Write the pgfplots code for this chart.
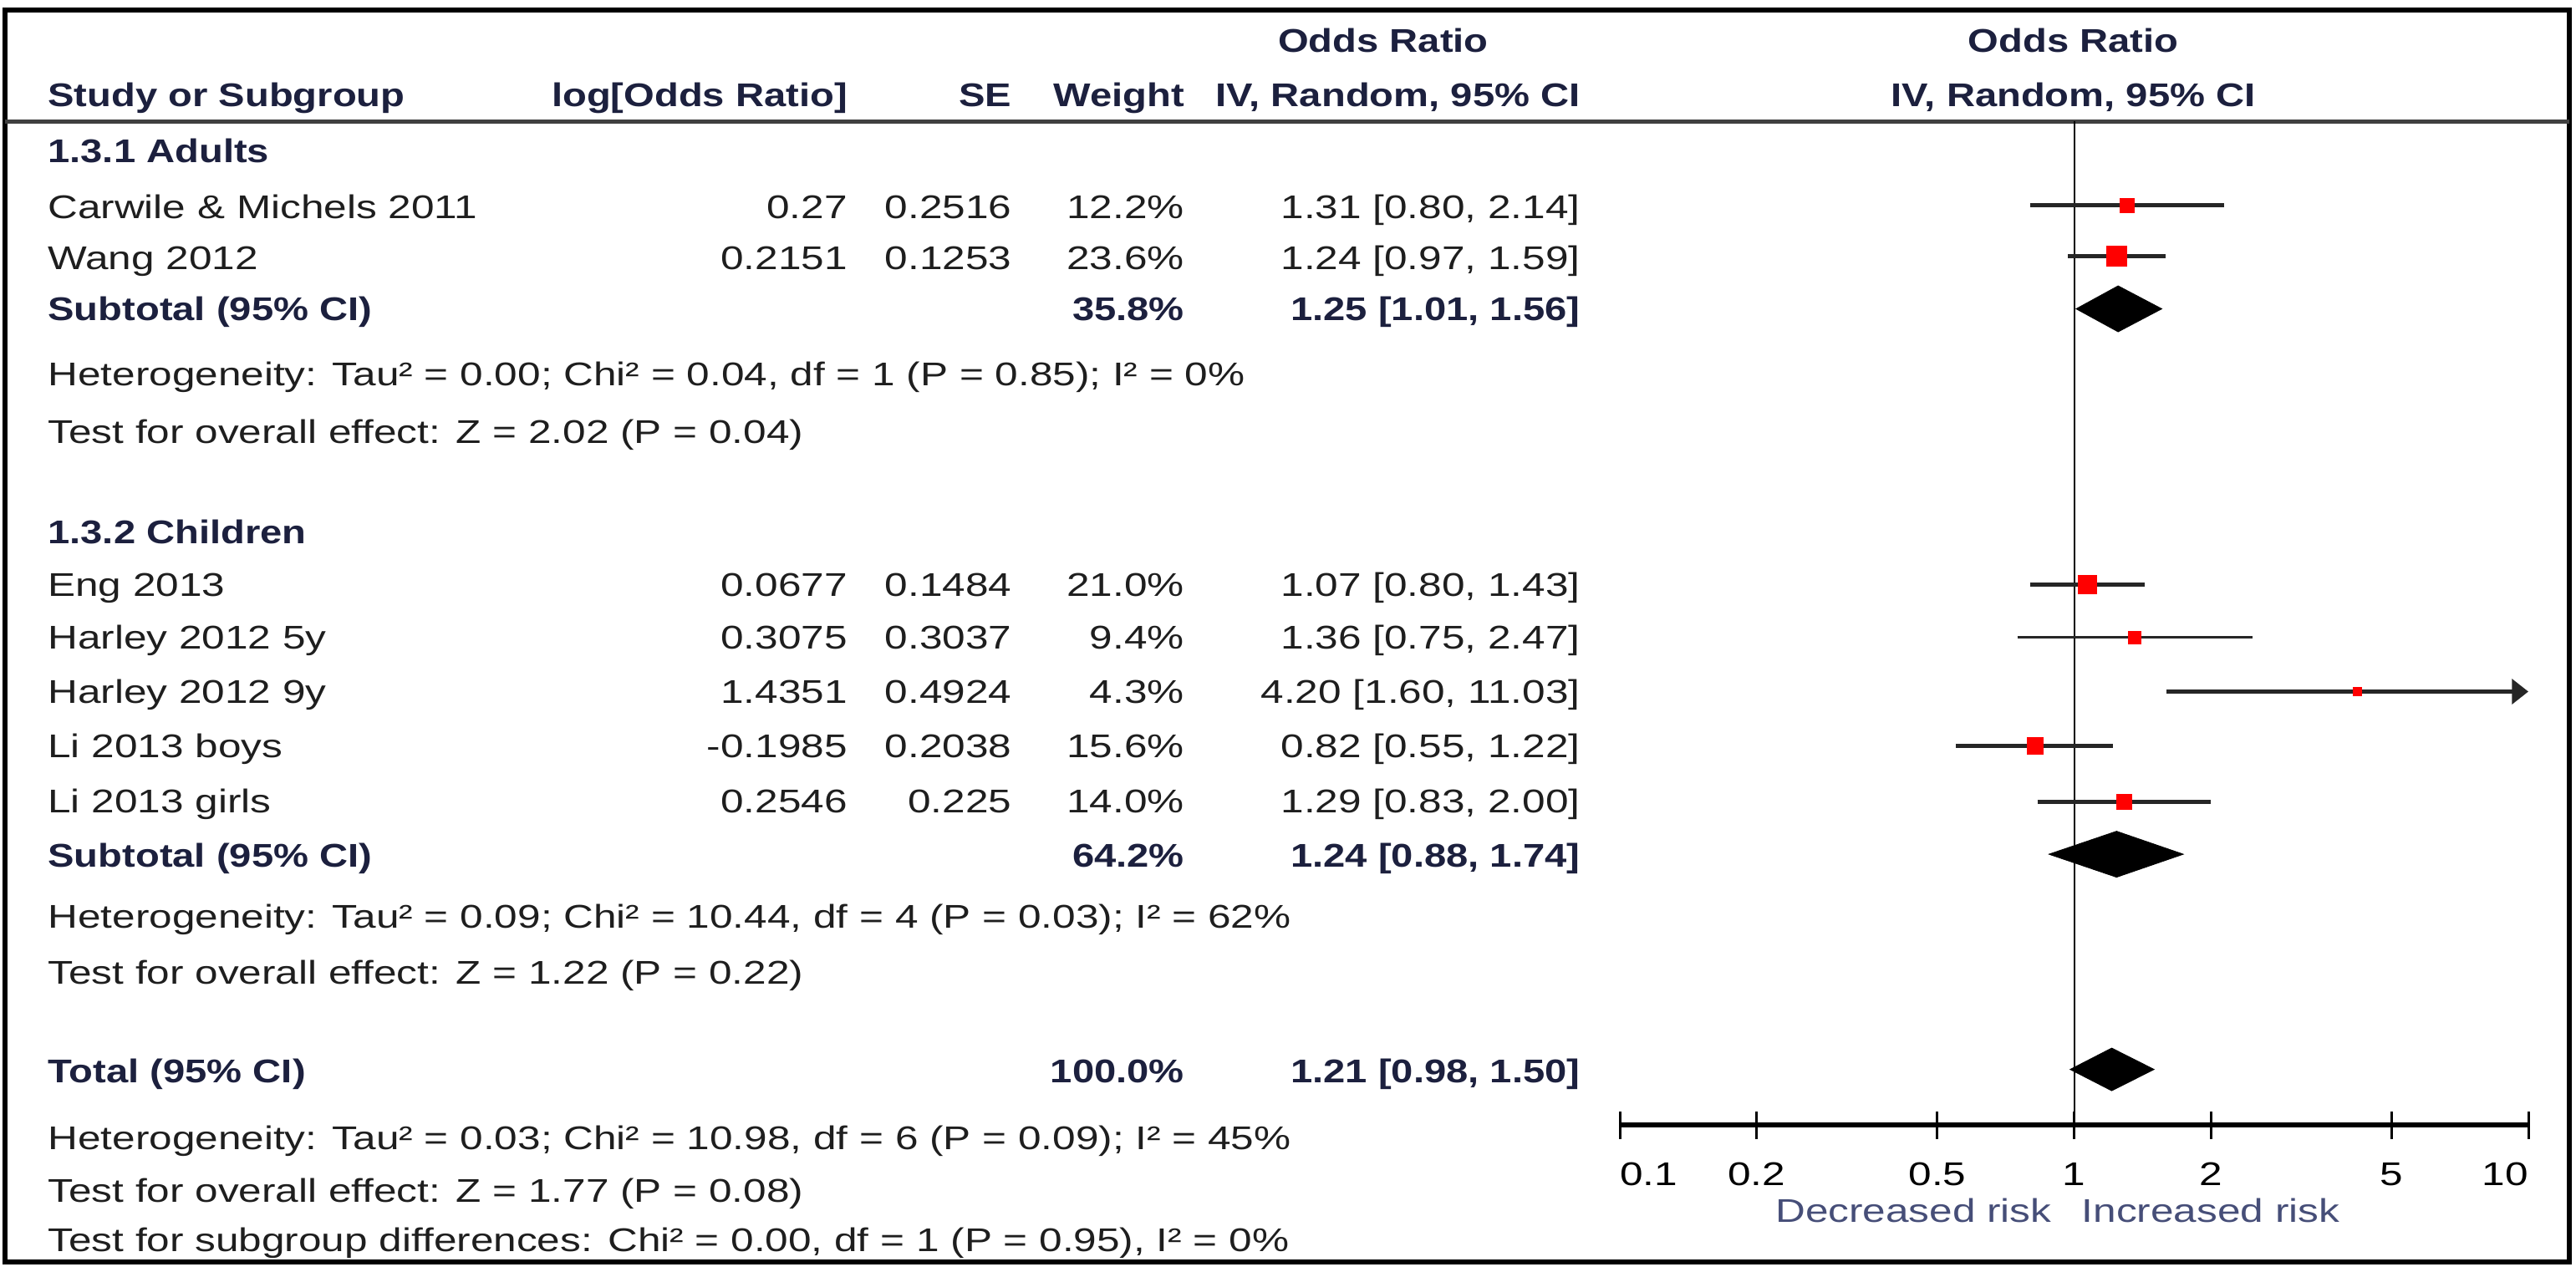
\documentclass[border=0pt]{standalone}
\usepackage{fontspec}
\setmainfont{Liberation Sans}[FakeStretch=1.26, BoldFeatures={FakeStretch=1.2}]
\usepackage{pgfplots}
\pgfplotsset{compat=1.18}
\usetikzlibrary{arrows.meta}
\definecolor{txt}{RGB}{30,30,30}
\definecolor{hdr}{RGB}{28,32,62}
\definecolor{risk}{RGB}{70,78,120}
\definecolor{sq}{RGB}{255,0,0}
\newcommand\fs{\fontsize{20}{24}\selectfont}
\newcommand\study[6]{%
  \node[anchor=base west] at (29,-#1) {#2};
  \node[anchor=base east] at (516,-#1) {#3};
  \node[anchor=base east] at (616,-#1) {#4};
  \node[anchor=base east] at (721,-#1) {#5};
  \node[anchor=base east] at (962,-#1) {#6};}
\begin{document}
\begin{tikzpicture}[x=1pt,y=1pt, every node/.style={font=\fs, inner sep=0pt, text=txt}]
\useasboundingbox (0,0) rectangle (1568,-774);
\draw[line width=3pt] (3,-6) rectangle (1564,-768);
\draw[line width=3pt, black!75] (3,-74) -- (1564,-74);
% headers
\begin{scope}[every node/.append style={text=hdr, font=\fs\bfseries}]
\node[anchor=base] at (842,-32) {Odds Ratio};
\node[anchor=base] at (1262,-32) {Odds Ratio};
\node[anchor=base west] at (29,-65) {Study or Subgroup};
\node[anchor=base east] at (516,-65) {log[Odds Ratio]};
\node[anchor=base east] at (616,-65) {SE};
\node[anchor=base east] at (721,-65) {Weight};
\node[anchor=base east] at (962,-65) {IV, Random, 95\% CI};
\node[anchor=base] at (1262,-65) {IV, Random, 95\% CI};
\node[anchor=base west] at (29,-99) {1.3.1 Adults};
\node[anchor=base west] at (29,-195) {Subtotal (95\% CI)};
\node[anchor=base east] at (721,-195) {35.8\%};
\node[anchor=base east] at (962,-195) {1.25 [1.01, 1.56]};
\node[anchor=base west] at (29,-331) {1.3.2 Children};
\node[anchor=base west] at (29,-528) {Subtotal (95\% CI)};
\node[anchor=base east] at (721,-528) {64.2\%};
\node[anchor=base east] at (962,-528) {1.24 [0.88, 1.74]};
\node[anchor=base west] at (29,-659) {Total (95\% CI)};
\node[anchor=base east] at (721,-659) {100.0\%};
\node[anchor=base east] at (962,-659) {1.21 [0.98, 1.50]};
\end{scope}
\study{133}{Carwile \& Michels 2011}{0.27}{0.2516}{12.2\%}{1.31 [0.80, 2.14]}
\study{164}{Wang 2012}{0.2151}{0.1253}{23.6\%}{1.24 [0.97, 1.59]}
\node[anchor=base west] at (29,-235) {Heterogeneity: Tau² = 0.00; Chi² = 0.04, df = 1 (P = 0.85); I² = 0\%};
\node[anchor=base west] at (29,-270) {Test for overall effect: Z = 2.02 (P = 0.04)};
\study{363}{Eng 2013}{0.0677}{0.1484}{21.0\%}{1.07 [0.80, 1.43]}
\study{395}{Harley 2012 5y}{0.3075}{0.3037}{9.4\%}{1.36 [0.75, 2.47]}
\study{428}{Harley 2012 9y}{1.4351}{0.4924}{4.3\%}{4.20 [1.60, 11.03]}
\study{461}{Li 2013 boys}{-0.1985}{0.2038}{15.6\%}{0.82 [0.55, 1.22]}
\study{495}{Li 2013 girls}{0.2546}{0.225}{14.0\%}{1.29 [0.83, 2.00]}
\node[anchor=base west] at (29,-565) {Heterogeneity: Tau² = 0.09; Chi² = 10.44, df = 4 (P = 0.03); I² = 62\%};
\node[anchor=base west] at (29,-599) {Test for overall effect: Z = 1.22 (P = 0.22)};
\node[anchor=base west] at (29,-700) {Heterogeneity: Tau² = 0.03; Chi² = 10.98, df = 6 (P = 0.09); I² = 45\%};
\node[anchor=base west] at (29,-732) {Test for overall effect: Z = 1.77 (P = 0.08)};
\node[anchor=base west] at (29,-762) {Test for subgroup differences: Chi² = 0.00, df = 1 (P = 0.95), I² = 0\%};
\node[anchor=base east, text=risk] at (1249,-744) {Decreased risk};
\node[anchor=base west, text=risk] at (1267,-744) {Increased risk};
\begin{axis}[at={(986pt,-685pt)}, anchor=south west, scale only axis,
  width=553pt, height=611pt, xmode=log, xmin=0.1, xmax=10, ymin=-685, ymax=-74,
  axis x line*=bottom, axis y line=none, axis line style={-, line width=3pt, black},
  xtick={0.1,0.2,0.5,1,2,5,10}, xticklabels={\rlap{0.1},0.2,0.5,1,2,5,\llap{10}},
  xminorticks=false, tick align=center, major tick length=17pt,
  every tick/.style={black, line width=1.5pt},
  xticklabel style={font=\fs, text=black, inner sep=0pt, yshift=-14pt},
  clip=false,
  ci/.style={black!85, line width=2.5pt, no marks},
  sqm/.style={only marks, mark=square*, mark options={draw=sq, fill=sq}}]
\addplot[black, line width=1pt, no marks] coordinates {(1,-74) (1,-685)};
% study CIs
\addplot[ci] coordinates {(0.80,-125) (2.14,-125)};
\addplot[ci] coordinates {(0.97,-156) (1.59,-156)};
\addplot[ci] coordinates {(0.80,-356) (1.43,-356)};
\addplot[ci, line width=1.5pt] coordinates {(0.75,-388) (2.47,-388)};
\addplot[ci, -{Triangle[length=10pt,width=15pt]}] coordinates {(1.60,-421) (10,-421)};
\addplot[ci] coordinates {(0.55,-454) (1.22,-454)};
\addplot[ci] coordinates {(0.83,-488) (2.00,-488)};
% study estimates
\addplot[sqm, mark size=4.3] coordinates {(1.31,-125)};
\addplot[sqm, mark size=6] coordinates {(1.24,-156)};
\addplot[sqm, mark size=5.6] coordinates {(1.07,-356)};
\addplot[sqm, mark size=3.7] coordinates {(1.36,-388)};
\addplot[sqm, mark size=2.6] coordinates {(4.20,-421)};
\addplot[sqm, mark size=4.9] coordinates {(0.82,-454)};
\addplot[sqm, mark size=4.6] coordinates {(1.29,-488)};
% pooled diamonds
\addplot[fill=black, draw=black, no marks] coordinates {(1.01,-188) (1.25,-174) (1.56,-188) (1.25,-202)} -- cycle;
\addplot[fill=black, draw=black, no marks] coordinates {(0.88,-520) (1.24,-506) (1.74,-520) (1.24,-534)} -- cycle;
\addplot[fill=black, draw=black, no marks] coordinates {(0.98,-651) (1.21,-638) (1.50,-651) (1.21,-664)} -- cycle;
\end{axis}
\end{tikzpicture}
\end{document}
